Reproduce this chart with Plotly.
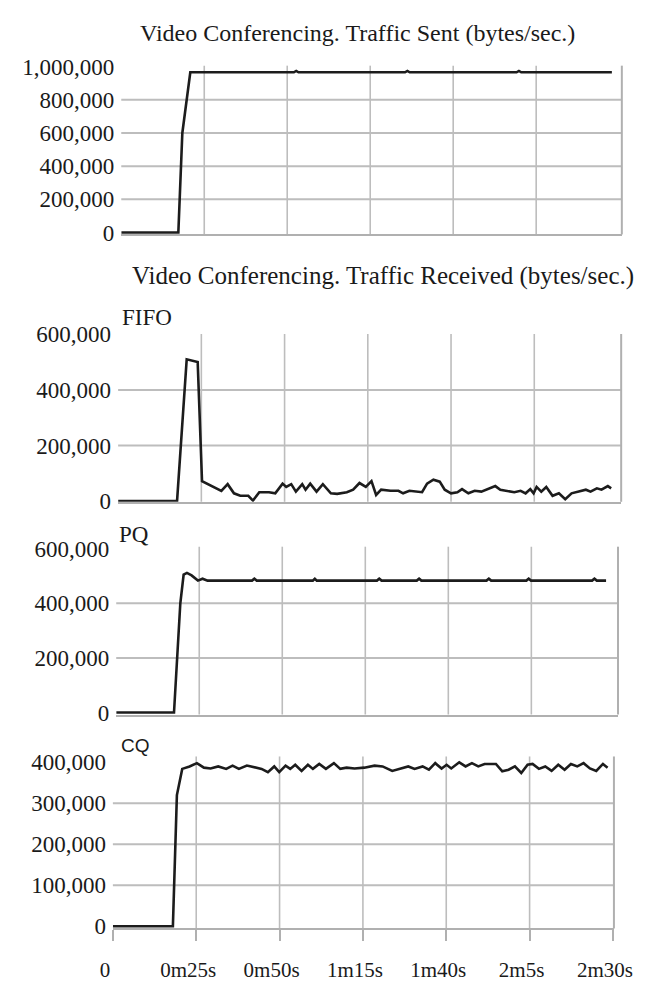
import plotly.graph_objects as go

W, H = 657, 988

# ---------------- data ----------------
sent_t = [0, 17.2, 18.4, 20.8, 52.0, 52.7, 53.4, 85.5, 86.2, 86.9, 119.1, 119.8, 120.5, 147.8]
sent_v = [0, 0, 600000, 966000, 966000, 974000, 966000, 966000, 974000, 966000, 966000, 974000, 966000, 966000]

fifo_t = [0, 17.7, 20.6, 23.9, 25.2, 27.5, 31.0, 32.9, 34.8, 36.7, 39.1, 40.5, 42.4, 45.3,
          47.2, 49.4, 50.5, 52.0, 53.4, 55.3, 56.3, 57.7, 59.6, 61.5,
          63.9, 65.8, 68.7, 70.6, 72.5, 74.4, 76.1, 77.5, 79.0, 81.8,
          84.2, 85.6, 87.5, 91.3, 92.8, 94.7, 96.6, 98.1, 100.0, 101.9,
          103.3, 105.2, 107.1, 109.1, 111.4, 113.3, 114.8, 117.1, 119.0, 120.9,
          122.4, 123.8, 124.8, 125.7, 127.1, 128.6, 130.5, 132.4, 134.3, 136.2,
          138.6, 140.5, 141.9, 143.8, 145.2, 147.1, 148.1]
fifo_v = [0, 0, 510000, 500000, 72000, 57000, 37000, 61000, 28000, 19000, 19000, 2000, 32000, 32000,
          28000, 63000, 51000, 61000, 34000, 61000, 41000, 63000, 34000, 61000,
          28000, 26000, 32000, 41000, 65000, 51000, 72000, 22000, 41000, 37000,
          37000, 28000, 37000, 32000, 63000, 77000, 70000, 41000, 28000, 32000,
          43000, 28000, 37000, 34000, 46000, 54000, 41000, 37000, 32000, 37000,
          28000, 43000, 28000, 51000, 34000, 51000, 19000, 28000, 7000, 28000,
          34000, 41000, 34000, 46000, 41000, 54000, 46000]

pq_t = [0, 17.4, 19.3, 20.3, 21.3, 22.7, 24.6, 26.0, 27.5, 40.9, 41.6, 42.3, 59.2, 59.8, 60.4,
        78.5, 79.2, 79.9, 90.5, 91.2, 91.9, 111.5, 112.2, 112.9, 123.5, 124.2, 124.9,
        143.3, 144.0, 144.7, 147.5]
pq_v = [0, 0, 400000, 505000, 511000, 502000, 483000, 490000, 483000, 483000, 490000, 483000,
        483000, 490000, 483000, 483000, 490000, 483000, 483000, 490000, 483000,
        483000, 490000, 483000, 483000, 490000, 483000, 483000, 490000, 483000, 483000]

cq_t = [0, 18.0, 19.2, 20.8, 23.0, 25.2, 27.3, 29.3, 31.6, 34.0,
        35.9, 37.8, 40.2, 42.7, 44.6, 46.5, 48.4, 49.9, 51.8, 53.2,
        54.7, 56.6, 58.5, 60.0, 61.9, 63.9, 66.3, 68.2, 70.1, 72.5,
        75.4, 78.5, 80.9, 83.8, 86.2, 88.6, 90.5, 92.9, 94.8, 96.7,
        98.6, 100.1, 101.5, 103.9, 105.8, 107.7, 109.6, 111.5, 114.9, 116.8,
        118.7, 120.6, 122.5, 124.4, 125.9, 127.8, 129.7, 131.6, 133.6, 135.5,
        137.4, 139.3, 141.2, 143.1, 145.0, 147.0, 148.4]
cq_v = [0, 0, 320000, 384000, 390000, 398000, 387000, 385000, 390000, 384000,
        392000, 384000, 392000, 387000, 384000, 376000, 390000, 376000, 392000, 384000,
        394000, 379000, 394000, 384000, 396000, 384000, 398000, 384000, 387000, 385000,
        387000, 392000, 390000, 379000, 385000, 390000, 384000, 390000, 382000, 398000,
        385000, 394000, 385000, 400000, 390000, 398000, 390000, 396000, 396000, 378000,
        382000, 390000, 374000, 394000, 396000, 384000, 390000, 379000, 394000, 382000,
        396000, 390000, 398000, 385000, 379000, 396000, 387000]

x_tickvals = [0, 25, 50, 75, 100, 125, 150]
x_ticktext = ["0", "0m25s", "0m50s", "1m15s", "1m40s", "2m5s", "2m30s"]
grid_t = [25, 50, 75, 100, 125]

sent_ticks = [0, 200000, 400000, 600000, 800000, 1000000]
sent_grid = [200000, 400000, 600000, 800000]
fifo_ticks = [0, 200000, 400000, 600000]
fifo_grid = [200000, 400000]
pq_ticks = [0, 200000, 400000, 600000]
pq_grid = [200000, 400000]
cq_ticks = [0, 100000, 200000, 300000, 400000]
cq_grid = [100000, 200000, 300000]

titles = ["Video Conferencing. Traffic Sent (bytes/sec.)",
          "Video Conferencing. Traffic Received (bytes/sec.)"]
panel_names = ["FIFO", "PQ", "CQ"]

# ---------------- layout helpers ----------------
def fx(p):
    return p / W

def fy(p):
    return 1 - p / H

SERIF = "Liberation Serif"
LINE = "#1c1c1c"
GRID = "#bdbdbd"
AXIS = "#b0b0b0"

panels = [
    # (t, v, yticks, ygrid, xdom px, ydom px (top,bottom), xrange, yrange)
    (sent_t, sent_v, sent_ticks, sent_grid, (113.8, 640), (55, 228), (0, 150.8), (-11800, 1005900)),
    (fifo_t, fifo_v, fifo_ticks, fifo_grid, (110.5, 639.3), (330, 502), (0, 151.1), (-2500, 601100)),
    (pq_t, pq_v, pq_ticks, pq_grid, (108.5, 636), (548, 720), (0, 151.1), (-7100, 607100)),
    (cq_t, cq_v, cq_ticks, cq_grid, (105, 631.7), (763, 939.3), (0, 150.3), (-5500, 414300)),
]

fig = go.Figure()
shapes = []
layout = {}

for i, (t, v, yt, yg, xd, yd, xr, yr) in enumerate(panels):
    n = "" if i == 0 else str(i + 1)
    xa, ya = "x" + n, "y" + n
    fig.add_trace(go.Scatter(x=t, y=v, mode="lines", xaxis=xa, yaxis=ya,
                             line=dict(color=LINE, width=2.6), showlegend=False,
                             hoverinfo="skip"))
    last = (i == len(panels) - 1)
    layout["xaxis" + n] = dict(
        domain=[fx(xd[0]), fx(xd[1])], range=list(xr), anchor=ya,
        showgrid=False, zeroline=False, showline=True, linecolor=AXIS, linewidth=2,
        tickvals=x_tickvals, ticktext=x_ticktext,
        showticklabels=last, ticks="outside" if last else "",
        ticklen=11, tickwidth=2, tickcolor=AXIS,
        ticklabelstandoff=10, ticklabelshift=-8,
        tickfont=dict(family=SERIF, size=21, color="#1a1a1a"),
        fixedrange=True,
    )
    layout["yaxis" + n] = dict(
        domain=[fy(yd[1]), fy(yd[0])], range=list(yr), anchor=xa,
        showgrid=False, zeroline=False, showline=False,
        tickvals=yt, ticktext=[f"{val:,}" for val in yt],
        ticks="", ticklabelstandoff=6,
        tickfont=dict(family=SERIF, size=23, color="#1a1a1a"),
        fixedrange=True,
    )
    for g in grid_t:
        shapes.append(dict(type="line", xref=xa, yref=ya + " domain", x0=g, x1=g, y0=0, y1=1,
                           line=dict(color=GRID, width=1.6), layer="below"))
    for g in yg:
        shapes.append(dict(type="line", xref=xa + " domain", yref=ya, x0=0, x1=1, y0=g, y1=g,
                           line=dict(color=GRID, width=2), layer="below"))
    shapes.append(dict(type="line", xref=xa + " domain", yref=ya + " domain", x0=1, x1=1, y0=0, y1=1,
                       line=dict(color=AXIS, width=2), layer="below"))

annotations = [
    dict(text=titles[0], x=fx(362), y=fy(22), xref="paper", yref="paper",
         showarrow=False, xanchor="center", yanchor="middle",
         font=dict(family=SERIF, size=24, color="#1a1a1a")),
    dict(text=titles[1], x=fx(389), y=fy(271), xref="paper", yref="paper",
         showarrow=False, xanchor="center", yanchor="middle",
         font=dict(family=SERIF, size=25, color="#1a1a1a")),
    dict(text=panel_names[0], x=fx(113), y=fy(313), xref="paper", yref="paper",
         showarrow=False, xanchor="left", yanchor="middle",
         font=dict(family=SERIF, size=23, color="#1a1a1a")),
    dict(text=panel_names[1], x=fx(109), y=fy(535), xref="paper", yref="paper",
         showarrow=False, xanchor="left", yanchor="middle",
         font=dict(family=SERIF, size=23, color="#1a1a1a")),
    dict(text=panel_names[2], x=fx(111), y=fy(752), xref="paper", yref="paper",
         showarrow=False, xanchor="left", yanchor="middle",
         font=dict(family="Liberation Sans", size=19, color="#1a1a1a")),
]

fig.update_layout(
    width=W, height=H, autosize=False,
    margin=dict(l=0, r=0, t=0, b=0, pad=0),
    paper_bgcolor="white", plot_bgcolor="white",
    shapes=shapes, annotations=annotations,
    **layout,
)

fig.write_html("out.html", config={"displayModeBar": False})
